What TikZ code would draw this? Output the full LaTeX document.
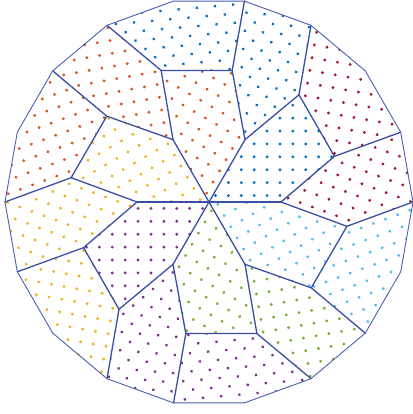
\documentclass[tikz,border=0pt]{standalone}
\usepackage{xcolor}
\definecolor{mblue}{rgb}{0,0.447,0.741}
\definecolor{morange}{rgb}{0.85,0.325,0.098}
\definecolor{myellow}{rgb}{0.929,0.694,0.125}
\definecolor{mpurple}{rgb}{0.494,0.184,0.556}
\definecolor{mgreen}{rgb}{0.466,0.674,0.188}
\definecolor{mlblue}{rgb}{0.301,0.745,0.933}
\definecolor{mdred}{rgb}{0.635,0.078,0.184}
\definecolor{edgec}{RGB}{58,78,164}
\definecolor{rimc}{RGB}{74,94,180}
\tikzset{
  inneredge/.style={draw=edgec,line width=1.3pt,line join=round,line cap=round},
  rimedge/.style={draw=rimc,line width=0.9pt,line join=round},
}
\newcommand{\dotgrid}[5]{% color, shift x, shift y, rotation, half-range
  \begin{scope}[shift={(#2,#3)},rotate=#4]
    \foreach \i in {-#5,...,#5}{\foreach \j in {-#5,...,#5}{%
      \fill[#1] (12.9*\i,12.9*\j) circle[radius=1.6pt];}}
  \end{scope}}
\begin{document}
\begin{tikzpicture}[x=1pt,y=1pt]
\useasboundingbox (-209,-212) rectangle (203,202);
% vertices
\coordinate (C) at (0,0);
\foreach \k in {0,...,5}{
  \coordinate (I\k) at ({60*\k}:72);
  \coordinate (P\k) at ({20+60*\k}:133.5);
  \coordinate (Q\k) at ({50+60*\k}:140);
}
\foreach \j in {0,...,17}{\coordinate (O\j) at ({20*\j}:204);}
% cells with dots (6-fold symmetric sectors)
\foreach \k/\ca/\cb/\cc in {0/mblue/mdred/mdred,1/morange/mblue/mblue,2/myellow/morange/morange,3/mpurple/myellow/myellow,4/mgreen/mpurple/mpurple,5/mlblue/mgreen/mlblue}{
  \begin{scope}[rotate=60*\k]
    % inner cell A
    \begin{scope}
      \clip (0,0)--(0:72)--(20:133.5)--(50:140)--(60:72)--cycle;
      \dotgrid{\ca}{6.45}{6.45}{0}{11}
    \end{scope}
    % outer cell B
    \begin{scope}
      \clip (0:72)--(20:133.5)--(20:204)--(0:204)--(-10:140)--cycle;
      \dotgrid{\cb}{128.7}{27}{-20}{8}
    \end{scope}
    % outer cell C
    \begin{scope}
      \clip (20:133.5)--(50:140)--(60:204)--(40:204)--(20:204)--cycle;
      \dotgrid{\cc}{105.3}{157}{-10}{10}
    \end{scope}
  \end{scope}
}
% inner edges
\foreach \k in {0,...,5}{
  \pgfmathtruncatemacro{\kn}{mod(\k+1,6)}
  \pgfmathtruncatemacro{\oa}{3*\k+1}
  \pgfmathtruncatemacro{\ob}{mod(3*\k+3,18)}
  \draw[inneredge] (C)--(I\k);
  \draw[inneredge] (I\k)--(P\k)--(Q\k)--(I\kn);
  \draw[inneredge] (P\k)--(O\oa);
  \draw[inneredge] (Q\k)--(O\ob);
}
% rim
\draw[rimedge] (O0) \foreach \j in {1,...,17}{--(O\j)} --cycle;
\end{tikzpicture}
\end{document}
